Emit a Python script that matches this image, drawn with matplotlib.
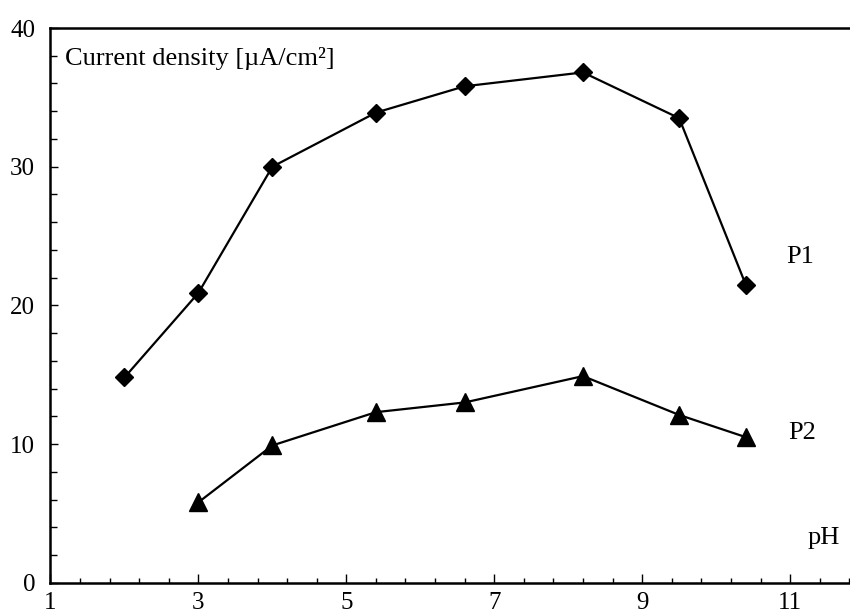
import matplotlib
matplotlib.use('Agg')
import matplotlib.pyplot as plt
import numpy as np

plt.rcParams['font.family'] = ['Liberation Serif', 'DejaVu Serif']

# data
ph_p1 = [2.0, 3.0, 4.0, 5.4, 6.6, 8.2, 9.5, 10.4]
cd_p1 = [14.8, 20.9, 30.0, 33.9, 35.8, 36.8, 33.5, 21.5]
ph_p2 = [3.0, 4.0, 5.4, 6.6, 8.2, 9.5, 10.4]
cd_p2 = [5.8, 9.9, 12.3, 13.0, 14.9, 12.1, 10.5]
x_ticks = [1, 3, 5, 7, 9, 11]
y_ticks = [0, 10, 20, 30, 40]

fig = plt.figure(figsize=(8.5, 6.16), dpi=100)
ax = fig.add_axes([0.0594, 0.054, 0.9406, 0.9005])

ax.plot(ph_p1, cd_p1, color='black', lw=1.6, marker='D', ms=9.5, clip_on=False)
ax.plot(ph_p2, cd_p2, color='black', lw=1.6, marker='^', ms=13, clip_on=False)

ax.set_xlim(1, 11.81)
ax.set_ylim(0, 40)
ax.set_xticks(x_ticks)
ax.set_xticks(np.arange(1, 11.81, 0.4), minor=True)
ax.set_yticks(y_ticks)
ax.set_yticks(np.arange(0, 40.1, 2), minor=True)

ax.spines['right'].set_visible(False)
for s in ['left', 'bottom', 'top']:
    ax.spines[s].set_linewidth(1.8)

ax.tick_params(axis='x', which='major', direction='in', length=6.5, width=1, pad=7, labelsize=18)
ax.tick_params(axis='x', which='minor', direction='in', length=3.5, width=1)
ax.tick_params(axis='y', which='major', direction='in', length=6, width=1, pad=11, labelsize=18)
ax.tick_params(axis='y', which='minor', direction='in', length=5, width=1)

ax.text(1.2, 37.3, 'Current density [\u00b5A/cm\u00b2]', fontsize=19, va='baseline', ha='left')
ax.text(10.95, 23.5, 'P1', fontsize=19, va='center', ha='left')
ax.text(10.97, 10.8, 'P2', fontsize=19, va='center', ha='left')
ax.text(11.24, 3.2, 'pH', fontsize=19, va='center', ha='left')

fig.savefig('out.png', dpi=100)
